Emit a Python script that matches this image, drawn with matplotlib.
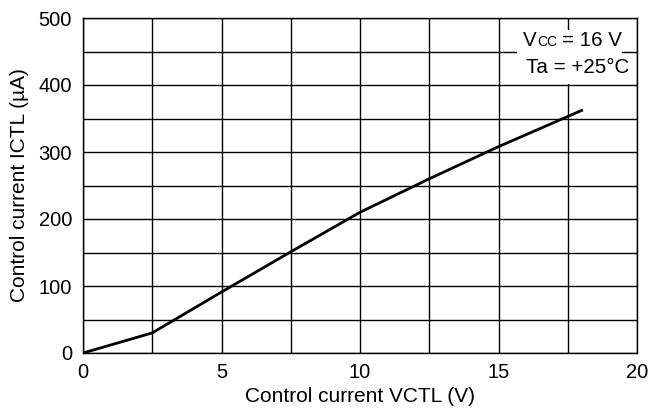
import matplotlib
matplotlib.use("Agg")
import matplotlib.pyplot as plt

plt.rcParams['font.family'] = ['Liberation Sans', 'DejaVu Sans']

vctl = [0, 2.5, 5, 7.5, 10, 12.5, 15, 18]
ictl = [0, 30, 91, 151, 210, 260, 308, 362]

x_ticks = [0, 5, 10, 15, 20]
y_ticks = [0, 100, 200, 300, 400, 500]

fs = 15
fs_tick = 14.5
fs_note = 14.8

fig = plt.figure(figsize=(6.5, 4.17), dpi=100)
ax = fig.add_axes([83 / 650, 64 / 417, 554 / 650, 335 / 417])

ax.set_xlim(0, 20)
ax.set_ylim(0, 500)
ax.set_xticks(x_ticks)
ax.set_yticks(y_ticks)
ax.set_xticks([i * 2.5 for i in range(9)], minor=True)
ax.set_yticks([i * 50 for i in range(11)], minor=True)
ax.grid(True, which='both', color='black', linewidth=1.0)
ax.tick_params(which='both', length=0, labelsize=fs_tick)
ax.tick_params(axis='x', pad=7.5)
ax.tick_params(axis='y', pad=8)
for s in ax.spines.values():
    s.set_linewidth(1.0)

ax.plot(vctl, ictl, color='black', linewidth=2.0, zorder=3)

ax.set_xlabel("Control current VCTL (V)", fontsize=fs, labelpad=3.5)
ax.set_ylabel("Control current ICTL (\u00b5A)", fontsize=fs, labelpad=7)

# condition box over the grid
box = plt.Rectangle((15.67, 401), 3.79, 81, facecolor='white', edgecolor='none', zorder=4)
ax.add_patch(box)
ax.text(15.87, 458, "V", fontsize=fs_note, ha='left', va='baseline', zorder=5)
ax.text(16.4, 458, "CC", fontsize=10, ha='left', va='baseline', zorder=5)
ax.text(17.29, 458, "= 16 V", fontsize=fs_note, ha='left', va='baseline', zorder=5)
ax.text(19.71, 418, "Ta = +25\u00b0C", fontsize=fs_note, ha='right', va='baseline', zorder=5)

fig.savefig("out.png", dpi=100)
